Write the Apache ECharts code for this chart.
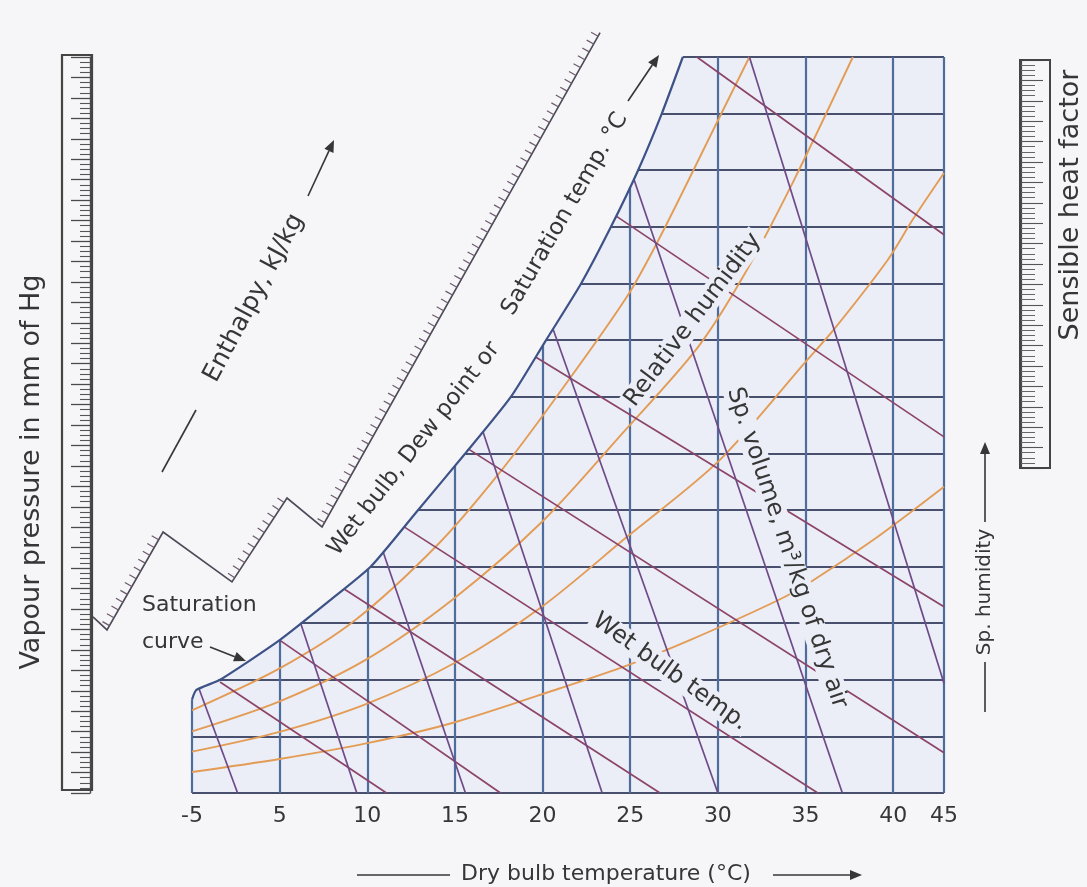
<!DOCTYPE html>
<html>
<head>
<meta charset="utf-8">
<title>Psychrometric chart</title>
<script src="https://cdn.jsdelivr.net/npm/echarts@6/dist/echarts.min.js"></script>
<style>
  html, body { margin: 0; padding: 0; background: #f6f5f7; }
  #chart { width: 1087px; height: 887px; }
</style>
</head>
<body>
<div id="chart"></div>
<script>
// dry bulb axis: the chart is schematic, so tick positions are in chart units
const xTickPos = [0, 5, 10, 15, 20, 25, 30, 35, 40, 42.9];
const xTickLabels = ['-5', '5', '10', '15', '20', '25', '30', '35', '40', '45'];
const X_MAX = 42.9;
const Y_MAX = 13;

// saturation curve (x = dry bulb units, y = sp. humidity grid units)
const satCurve = [[0, 1.65], [0.25, 1.82], [1.6, 2.0], [5.0, 2.7], [7.9, 3.41], [10.2, 4.0],
  [12.9, 5.0], [15.6, 6.0], [18.2, 7.0], [20.2, 8.0], [22.2, 9.0], [23.9, 10.0],
  [25.45, 11.0], [26.8, 12.0], [28.0, 13.0]];

// horizontal sp. humidity lines and where they leave the saturation curve
const humLines = [0, 1, 2, 3, 4, 5, 6, 7, 8, 9, 10, 11, 12, 13];
const humStart = [0, 0, 1.5, 6.2, 10.2, 12.9, 15.6, 18.2, 20.2, 22.2, 23.9, 25.45, 26.8, 28.0];

// vertical dry bulb lines and their top ends
const dryBulbLines = [0, 5, 10, 15, 20, 25, 30, 35, 40, 42.9];
const dryBulbTop = [1.65, 2.7, 3.95, 5.78, 7.9, 10.7, 13, 13, 13, 13];

// relative humidity curves
const rh80 = [[0, 1.46], [5, 2.2], [9.3, 3.05], [14, 4.38], [17.4, 5.6], [20.8, 7.0],
  [24.8, 8.76], [26.7, 9.82], [30.1, 11.94], [31.8, 13]];
const rh60 = [[0, 1.09], [5, 1.62], [10, 2.37], [15, 3.45], [20, 4.8], [24.4, 6.3],
  [28.8, 7.85], [31.4, 9.1], [34.3, 10.8], [37.7, 13]];
const rh40 = [[0, 0.73], [5, 1.08], [10, 1.58], [15, 2.3], [20, 3.3], [24.8, 4.52],
  [30.1, 5.88], [35.1, 7.65], [36.6, 8.18], [39.7, 9.42], [41.1, 10.12], [42.9, 10.95]];
const rh20 = [[0, 0.37], [5, 0.6], [10, 0.88], [15, 1.25], [21, 1.85], [24.8, 2.25],
  [28.4, 2.7], [33.4, 3.4], [35.4, 3.75], [39, 4.5], [42.9, 5.41]];

// wet bulb lines (start on saturation curve, end on the frame)
const wetBulbLines = [
  [[1.6, 1.96], [11.1, 0]],
  [[5.0, 2.7], [17.6, 0]],
  [[8.7, 3.6], [26.7, 0]],
  [[12.1, 4.7], [35.7, 0]],
  [[15.8, 6.07], [42.9, 0.71]],
  [[19.6, 7.7], [42.9, 3.29]],
  [[24.2, 10.19], [42.9, 6.29]],
  [[28.8, 13], [42.9, 9.86]]
];

// specific volume lines
const volumeLines = [
  [[0.4, 1.84], [2.6, 0]],
  [[6.2, 3.0], [9.4, 0]],
  [[10.9, 4.26], [15.6, 0]],
  [[16.6, 6.38], [23.4, 0]],
  [[20.6, 8.19], [30.0, 0]],
  [[25.2, 10.85], [37.1, 0]],
  [[31.8, 13], [42.9, 1.94]]
];

// enthalpy scale (stepped line outside the saturation curve)
const enthalpyScale = [[-5.65, 3.11], [-4.85, 2.88], [-1.65, 4.61], [2.28, 3.73],
  [5.42, 5.21], [7.42, 4.70], [23.28, 13.43]];
const enthalpyTicked = [
  [-4.85, 2.88, -1.65, 4.61],
  [2.28, 3.73, 5.42, 5.21],
  [7.42, 4.70, 23.28, 13.43]
];

const FONT = '"DejaVu Sans", sans-serif';
const INK = '#363636';
const PANEL = '#eceef7';

const chartDom = document.getElementById('chart');
const myChart = echarts.init(chartDom);

function label(text, x, y, deg, size, opts) {
  const o = opts || {};
  const style = {
    text: text,
    fill: INK,
    fontSize: size,
    fontFamily: FONT,
    align: o.align || 'center',
    verticalAlign: 'middle'
  };
  if (o.bg) {
    style.backgroundColor = PANEL;
    style.padding = [0, 3];
  }
  return { type: 'text', x: x, y: y, rotation: deg * Math.PI / 180, z: 50, style: style };
}

function arrow(x1, y1, x2, y2, withHead) {
  const a = Math.atan2(y2 - y1, x2 - x1);
  const h = withHead === false ? 0 : 12;
  const w = 5;
  const bx = x2 - h * Math.cos(a);
  const by = y2 - h * Math.sin(a);
  const out = [{
    type: 'line', z: 50,
    shape: { x1: x1, y1: y1, x2: bx, y2: by },
    style: { stroke: INK, lineWidth: 1.6 }
  }];
  if (h) {
    out.push({
      type: 'polygon', z: 50,
      shape: { points: [[x2, y2], [bx - w * Math.sin(a), by + w * Math.cos(a)], [bx + w * Math.sin(a), by - w * Math.cos(a)]] },
      style: { fill: INK }
    });
  }
  return out;
}

const hCoords = humLines.map((y, i) => ({ coords: [[humStart[i], y], [X_MAX, y]] }));
const vCoords = dryBulbLines.map((x, i) => ({ coords: [[x, 0], [x, dryBulbTop[i]]] }));

function rhSeries(data) {
  return {
    type: 'line', data: data, smooth: 0.3, symbol: 'none', z: 3, silent: true,
    lineStyle: { color: '#e39c55', width: 1.9 }
  };
}

const option = {
  animation: false,
  backgroundColor: '#f6f5f7',
  grid: [
    { left: 192, right: 143, top: 57, bottom: 94, containLabel: false },
    { left: 1021, width: 28, top: 60, height: 408 }
  ],
  xAxis: [
    {
      type: 'value', gridIndex: 0, min: 0, max: X_MAX, interval: 5,
      axisLine: { show: false },
      axisTick: { show: false },
      splitLine: { show: false },
      axisLabel: {
        fontSize: 22, fontFamily: FONT, color: INK, margin: 12,
        showMinLabel: true, showMaxLabel: true,
        formatter: function (v) {
          const i = xTickPos.findIndex(p => Math.abs(p - v) < 0.01);
          return i >= 0 ? xTickLabels[i] : '';
        }
      }
    },
    { type: 'value', gridIndex: 1, min: 0, max: 1, show: false }
  ],
  yAxis: [
    { type: 'value', gridIndex: 0, min: 0, max: Y_MAX, interval: 1, show: false },
    {
      // vapour pressure ruler
      type: 'value', gridIndex: 0, position: 'left', offset: 102,
      min: 0, max: 36, interval: 1,
      axisLine: { show: true, lineStyle: { color: '#4a4a4a', width: 1.4 } },
      axisTick: { show: true, inside: false, length: 19, lineStyle: { color: '#4a4a4a', width: 1.3 } },
      minorTick: { show: true, splitNumber: 4, length: 10, lineStyle: { color: '#555', width: 1.1 } },
      axisLabel: { show: false },
      splitLine: { show: false }
    },
    {
      // sensible heat factor ruler
      type: 'value', gridIndex: 1, position: 'left',
      min: 0, max: 1, interval: 0.05,
      axisLine: { show: true, lineStyle: { color: '#4a4a4a', width: 1.2 } },
      axisTick: { show: true, inside: true, length: 22, lineStyle: { color: '#555', width: 1.1 } },
      minorTick: { show: true, splitNumber: 4, length: 14, lineStyle: { color: '#666', width: 1 } },
      axisLabel: { show: false },
      splitLine: { show: false }
    }
  ],
  series: [
    {
      type: 'line', data: satCurve.concat([[X_MAX, Y_MAX]]), symbol: 'none', silent: true, z: 1,
      lineStyle: { width: 0, opacity: 0 },
      areaStyle: { color: PANEL, opacity: 1 }
    },
    {
      type: 'lines', coordinateSystem: 'cartesian2d', data: hCoords, silent: true, z: 2,
      lineStyle: { color: '#48506e', width: 2.2, opacity: 1, curveness: 0 }
    },
    {
      type: 'lines', coordinateSystem: 'cartesian2d', data: vCoords, silent: true, z: 2,
      lineStyle: { color: '#4e6c9c', width: 2.2, opacity: 1, curveness: 0 }
    },
    rhSeries(rh80),
    rhSeries(rh60),
    rhSeries(rh40),
    rhSeries(rh20),
    {
      type: 'lines', coordinateSystem: 'cartesian2d', silent: true, z: 4,
      data: wetBulbLines.map(c => ({ coords: c })),
      lineStyle: { color: '#8c4468', width: 1.7, opacity: 1, curveness: 0 }
    },
    {
      type: 'lines', coordinateSystem: 'cartesian2d', silent: true, z: 4,
      data: volumeLines.map(c => ({ coords: c })),
      lineStyle: { color: '#6e4a88', width: 1.7, opacity: 1, curveness: 0 }
    },
    {
      type: 'line', data: satCurve, smooth: 0.2, symbol: 'none', silent: true, z: 6,
      lineStyle: { color: '#3d5287', width: 2.2 }
    },
    {
      type: 'lines', coordinateSystem: 'cartesian2d', polyline: true, clip: false, silent: true, z: 6,
      data: [{ coords: enthalpyScale }],
      lineStyle: { color: '#4d4a58', width: 1.6, opacity: 1 }
    },
    {
      type: 'custom', coordinateSystem: 'cartesian2d', clip: false, silent: true, z: 6,
      data: enthalpyTicked,
      renderItem: function (params, api) {
        const a = api.coord([api.value(0), api.value(1)]);
        const b = api.coord([api.value(2), api.value(3)]);
        const dx = b[0] - a[0], dy = b[1] - a[1];
        const len = Math.hypot(dx, dy);
        const ux = dx / len, uy = dy / len;
        const children = [];
        for (let s = 5; s < len - 2; s += 9) {
          const px = a[0] + ux * s, py = a[1] + uy * s;
          children.push({
            type: 'line',
            shape: { x1: px, y1: py, x2: px + uy * 8, y2: py - ux * 8 },
            style: { stroke: '#6b5a6e', lineWidth: 1.2 }
          });
        }
        return { type: 'group', children: children };
      }
    }
  ],
  graphic: {
    elements: [
      { type: 'rect', z: 50, shape: { x: 62, y: 55, width: 30, height: 735 }, style: { fill: 'none', stroke: '#444', lineWidth: 2.2 } },
      { type: 'rect', z: 50, shape: { x: 1020, y: 60, width: 30, height: 408 }, style: { fill: 'none', stroke: '#444', lineWidth: 2 } },
      label('Vapour pressure in mm of Hg', 32, 472, 90, 27),
      label('Saturation', 142, 605, 0, 22, { align: 'left' }),
      label('curve', 142, 642, 0, 22, { align: 'left' }),
      label('Wet bulb, Dew point or', 414, 449, 52, 23),
      label('Saturation temp. °C', 565, 214, 60, 23),
      label('Enthalpy, kJ/kg', 254, 298, 62, 25),
      label('Relative humidity', 693, 320, 53, 24, { bg: true }),
      label('Sp. volume, m³/kg of dry air', 787, 548, -71.5, 24, { bg: true }),
      label('Wet bulb temp.', 670, 672, -35.5, 24, { bg: true }),
      label('Dry bulb temperature (°C)', 606, 874, 0, 22),
      label('Sp. humidity', 985, 592, 90, 20),
      label('Sensible heat factor', 1071, 205, 90, 27),
      ...arrow(210, 647, 246, 661),
      ...arrow(162, 472, 196, 410, false),
      ...arrow(308, 196, 334, 140),
      ...arrow(628, 101, 659, 55),
      ...arrow(357, 875, 450, 875, false),
      ...arrow(773, 875, 862, 875),
      ...arrow(985, 712, 985, 662, false),
      ...arrow(985, 522, 985, 442)
    ]
  }
};

myChart.setOption(option);
</script>
</body>
</html>
